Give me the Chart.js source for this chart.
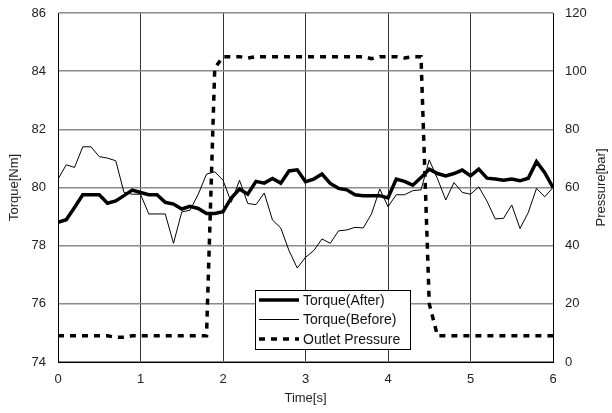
<!DOCTYPE html>
<html>
<head>
<meta charset="utf-8">
<script src="https://cdn.jsdelivr.net/npm/chart.js@4"></script>
<style>
  html, body { margin: 0; padding: 0; background: #fff; }
  #wrap { width: 612px; height: 413px; }
</style>
</head>
<body>
<div id="wrap"><canvas id="torque-Chart"></canvas></div>
<script>
// time axis, seconds
const time = [0, 0.1, 0.2, 0.3, 0.4, 0.5, 0.6, 0.7, 0.8, 0.9,
  1, 1.1, 1.2, 1.3, 1.4, 1.5, 1.6, 1.7, 1.8, 1.9,
  2, 2.1, 2.2, 2.3, 2.4, 2.5, 2.6, 2.7, 2.8, 2.9,
  3, 3.1, 3.2, 3.3, 3.4, 3.5, 3.6, 3.7, 3.8, 3.9,
  4, 4.1, 4.2, 4.3, 4.4, 4.5, 4.6, 4.7, 4.8, 4.9,
  5, 5.1, 5.2, 5.3, 5.4, 5.5, 5.6, 5.7, 5.8, 5.9, 6];

const torqueAfter = [78.80, 78.89, 79.31, 79.75, 79.75, 79.75, 79.46, 79.54, 79.72, 79.91,
  79.83, 79.75, 79.75, 79.49, 79.43, 79.26, 79.35, 79.28, 79.11, 79.11,
  79.17, 79.64, 79.95, 79.77, 80.21, 80.15, 80.31, 80.15, 80.57, 80.61,
  80.20, 80.29, 80.46, 80.14, 79.97, 79.92, 79.75, 79.72, 79.72, 79.72,
  79.64, 80.29, 80.21, 80.08, 80.34, 80.63, 80.48, 80.40, 80.48, 80.60,
  80.40, 80.63, 80.32, 80.29, 80.25, 80.29, 80.23, 80.32, 80.89, 80.51, 80.00];

const torqueBefore = [80.29, 80.78, 80.69, 81.40, 81.40, 81.06, 81.01, 80.92, 79.83, 79.77,
  79.77, 79.09, 79.09, 79.09, 78.08, 79.16, 79.22, 79.77, 80.46, 80.54,
  80.25, 79.49, 80.25, 79.45, 79.41, 79.81, 78.88, 78.61, 77.83, 77.23,
  77.60, 77.83, 78.23, 78.08, 78.51, 78.54, 78.63, 78.61, 79.09, 79.95,
  79.34, 79.75, 79.75, 79.89, 79.92, 80.95, 80.30, 79.57, 80.17, 79.83,
  79.77, 80.02, 79.53, 78.92, 78.94, 79.40, 78.59, 79.14, 79.97, 79.68, 80.00];

const outletPressure = [9, 9, 9, 9, 9, 9, 9, 8.5, 8.5, 9,
  9, 9, 9, 9, 9, 9, 9, 9, 9, 101,
  105, 105, 105, 104.5, 105, 105, 105, 105, 105, 105,
  105, 105, 105, 105, 105, 105, 105, 105, 104.3, 105,
  105, 105, 104.5, 105, 105, 20, 9, 9, 9, 9,
  9, 9, 9, 9, 9, 9, 9, 9, 9, 9, 9];

const timeTicks = [0, 1, 2, 3, 4, 5, 6];
const torqueTicks = [74, 76, 78, 80, 82, 84, 86];
const pressureTicks = [0, 20, 40, 60, 80, 100, 120];

const FONT = '"Liberation Sans", Arial, sans-serif';

function pts(ys) {
  return time.map((t, i) => ({ x: t, y: ys[i] }));
}

// legend box drawn inside the plot, plus the right axis title
const boxLegend = {
  id: "boxLegend",
  afterDraw(chart) {
    const ctx = chart.ctx;
    const bx = 255, by = 290, bw = 155, bh = 59;
    ctx.save();
    ctx.fillStyle = "#fff";
    ctx.fillRect(bx, by, bw, bh);
    ctx.strokeStyle = "#000";
    ctx.lineWidth = 1;
    ctx.setLineDash([]);
    ctx.strokeRect(bx + 0.5, by + 0.5, bw, bh);
    chart.data.datasets.forEach((ds, i) => {
      const ly = by + 10 + i * 19.5;
      ctx.beginPath();
      ctx.lineWidth = ds.borderWidth;
      ctx.setLineDash(ds.borderDash || []);
      ctx.moveTo(bx + 4, ly);
      ctx.lineTo(bx + 44, ly);
      ctx.stroke();
      ctx.setLineDash([]);
      ctx.fillStyle = "#111";
      ctx.font = "14px " + FONT;
      ctx.textBaseline = "middle";
      ctx.textAlign = "left";
      ctx.fillText(ds.label, bx + 48, ly + 1);
    });
    // right title reads bottom to top like the left one
    const a = chart.chartArea;
    ctx.translate(601, (a.top + a.bottom) / 2);
    ctx.rotate(-Math.PI / 2);
    ctx.font = "13px " + FONT;
    ctx.fillStyle = "#222";
    ctx.textAlign = "center";
    ctx.textBaseline = "middle";
    ctx.fillText("Pressure[bar]", 0, 0);
    ctx.restore();
  },
};

// keep the tick labels from pushing the plot down
function fitY(width) {
  return (s) => {
    s.width = width;
    s.paddingTop = 4;
    s.paddingBottom = 4;
  };
}

const ctx = document.getElementById("torque-Chart");
const chart = new Chart(ctx, {
  type: "line",
  data: {
    datasets: [
      {
        label: "Torque(After)",
        data: pts(torqueAfter),
        yAxisID: "yL",
        borderColor: "#000",
        borderWidth: 3.5,
        pointRadius: 0,
        tension: 0,
      },
      {
        label: "Torque(Before)",
        data: pts(torqueBefore),
        yAxisID: "yL",
        borderColor: "#000",
        borderWidth: 1,
        pointRadius: 0,
        tension: 0,
      },
      {
        label: "Outlet Pressure",
        data: pts(outletPressure),
        yAxisID: "yR",
        borderColor: "#000",
        borderWidth: 3.5,
        borderDash: [6, 6],
        borderCapStyle: "butt",
        pointRadius: 0,
        tension: 0,
      },
    ],
  },
  options: {
    responsive: true,
    maintainAspectRatio: false, // fill the 612x413 box
    animation: false,
    layout: { padding: { top: 13, left: 0, right: 0, bottom: 0 } },
    plugins: {
      legend: { display: false },
      tooltip: { enabled: false },
    },
    scales: {
      x: {
        type: "linear",
        min: 0,
        max: 6,
        afterBuildTicks: (s) => { s.ticks = timeTicks.map((v) => ({ value: v })); },
        afterFit: (s) => { s.height = 51; },
        ticks: { color: "#222", font: { family: FONT, size: 13 }, padding: 10 },
        grid: { color: "#333", lineWidth: 1, drawTicks: false },
        border: { color: "#000", width: 1 },
        title: {
          display: true,
          text: "Time[s]",
          color: "#222",
          font: { family: FONT, size: 13 },
          padding: { top: 0, bottom: 7 },
        },
      },
      yL: {
        type: "linear",
        position: "left",
        min: 74,
        max: 86,
        afterBuildTicks: (s) => { s.ticks = torqueTicks.map((v) => ({ value: v })); },
        afterFit: fitY(58),
        ticks: { color: "#222", font: { family: FONT, size: 13 }, padding: 12 },
        grid: { color: "#8a8a8a", lineWidth: 1.5, drawTicks: false },
        border: { color: "#000", width: 1 },
        title: {
          display: true,
          text: "Torque[Nm]",
          color: "#222",
          font: { family: FONT, size: 13 },
          padding: { top: 7, bottom: 0 },
        },
      },
      yR: {
        type: "linear",
        position: "right",
        min: 0,
        max: 120,
        afterBuildTicks: (s) => { s.ticks = pressureTicks.map((v) => ({ value: v })); },
        afterFit: fitY(59),
        ticks: { color: "#222", font: { family: FONT, size: 13 }, padding: 12 },
        grid: { drawOnChartArea: false, drawTicks: false },
        border: { color: "#000", width: 1 },
      },
    },
  },
  plugins: [boxLegend],
});
</script>
</body>
</html>
